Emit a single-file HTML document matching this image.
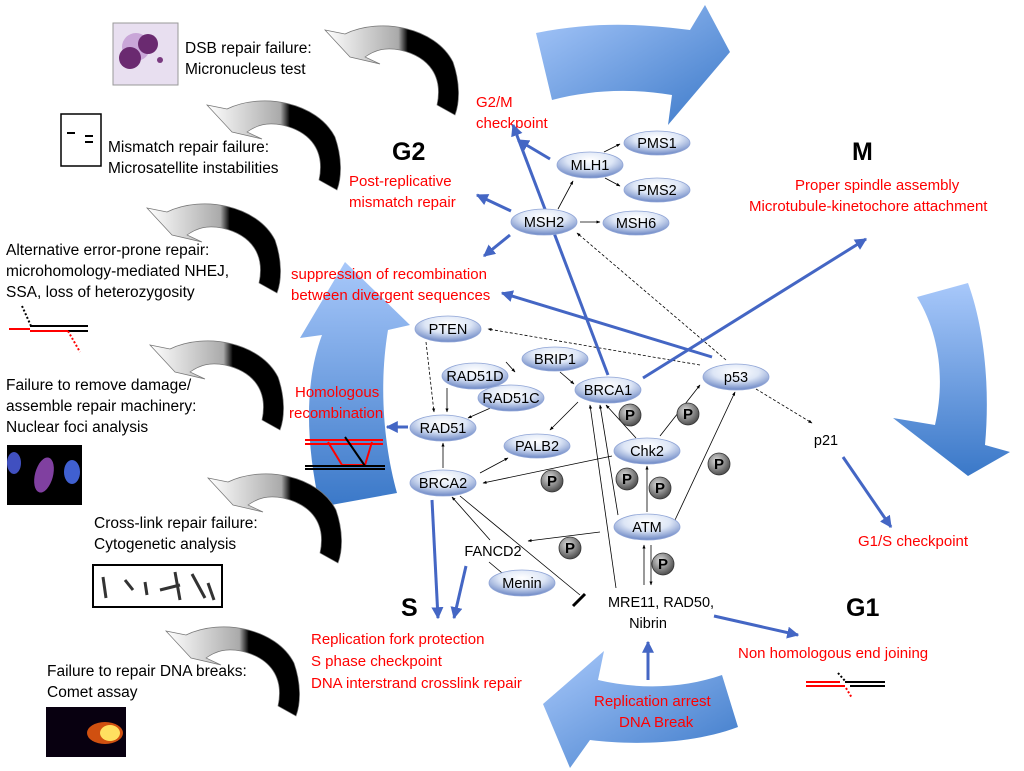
<!DOCTYPE html>
<html><head><meta charset="utf-8"><style>
html,body{margin:0;padding:0;background:#fff;}
svg{display:block;font-family:"Liberation Sans",sans-serif;}
.t{font-size:15.5px;fill:#000;}
.r{font-size:15px;fill:#ff0000;}
.b{font-size:25px;font-weight:bold;fill:#000;}
.n{font-size:14.5px;fill:#000;text-anchor:middle;}
</style></head><body>
<svg width="1024" height="771" viewBox="0 0 1024 771" xmlns="http://www.w3.org/2000/svg">
<defs>
<linearGradient id="bl" x1="0" y1="0" x2="1" y2="1"><stop offset="0" stop-color="#a8c8fa"/><stop offset="1" stop-color="#3a78c8"/></linearGradient>
<linearGradient id="blv" x1="0" y1="0" x2="0" y2="1"><stop offset="0" stop-color="#a8c8fa"/><stop offset="1" stop-color="#3a78c8"/></linearGradient>
<linearGradient id="hk" x1="0" y1="0" x2="1" y2="0"><stop offset="0" stop-color="#fff"/><stop offset="0.55" stop-color="#aaa"/><stop offset="0.62" stop-color="#000"/><stop offset="1" stop-color="#000"/></linearGradient>
<radialGradient id="el" cx="0.5" cy="0.3" r="0.7"><stop offset="0" stop-color="#fff"/><stop offset="0.5" stop-color="#dde6f6"/><stop offset="1" stop-color="#6b86c4"/></radialGradient>
<radialGradient id="pg" cx="0.4" cy="0.35" r="0.7"><stop offset="0" stop-color="#ddd"/><stop offset="1" stop-color="#444"/></radialGradient>
<marker id="ab" viewBox="0 0 10 10" refX="9" refY="5" markerWidth="4" markerHeight="4" orient="auto"><path d="M0,0L10,5L0,10Z" fill="#4466c4"/></marker>
<marker id="ak" viewBox="0 0 10 10" refX="9" refY="5" markerWidth="5" markerHeight="5" orient="auto"><path d="M0,1L10,5L0,9Z" fill="#000"/></marker>
<g id="hook"><path d="M0,8 L20,12 C55,-5 110,5 128,40 C135,60 135,80 130,93 L112,83 C118,55 105,35 75,28 C60,25 50,28 40,35 L55,42 L25,35 Z" fill="url(#hk)" stroke="#777" stroke-width="0.7"/></g>
</defs>

<path d="M536,33 C600,20 650,25 690,30 L705,5 L730,52 L668,125 L672,95 C630,88 590,90 552,100 Z" fill="url(#bl)"/>
<path d="M917,297 L968,283 C985,330 990,390 985,445 L1010,452 L968,476 L893,418 L935,425 C945,380 940,335 917,297 Z" fill="url(#blv)"/>
<path d="M722,675 L738,727 C690,745 630,745 590,740 L570,768 L543,704 L604,651 L598,680 C640,690 685,688 722,675 Z" fill="url(#bl)"/>
<path d="M345,262 L410,325 L388,330 C378,390 385,450 397,493 L320,507 C305,440 305,380 322,335 L300,338 Z" fill="url(#blv)"/>

<use href="#hook" transform="translate(325,22)"/>
<use href="#hook" transform="translate(207,97)"/>
<use href="#hook" transform="translate(147,200)"/>
<use href="#hook" transform="translate(150,337)"/>
<use href="#hook" transform="translate(208,470)"/>
<use href="#hook" transform="translate(166,623)"/>

<rect x="113" y="23" width="65" height="62" fill="#e8dff0" stroke="#999"/>
<circle cx="136" cy="47" r="14" fill="#c9a6d8"/><circle cx="148" cy="44" r="10" fill="#6a2a70"/><circle cx="130" cy="58" r="11" fill="#6a2a70"/><circle cx="160" cy="60" r="3" fill="#7a3a80"/>
<rect x="61" y="114" width="40" height="52" fill="#fff" stroke="#000" stroke-width="1.5"/>
<line x1="67" y1="133" x2="75" y2="133" stroke="#000" stroke-width="2"/><line x1="85" y1="136" x2="93" y2="136" stroke="#000" stroke-width="2"/><line x1="85" y1="142" x2="93" y2="142" stroke="#000" stroke-width="2"/>
<rect x="7" y="445" width="75" height="60" fill="#000"/>
<ellipse cx="14" cy="463" rx="7" ry="11" fill="#4050c0"/><ellipse cx="44" cy="475" rx="9" ry="18" fill="#8040a0" transform="rotate(15 44 475)"/><ellipse cx="72" cy="472" rx="8" ry="12" fill="#4060d0"/>
<rect x="93" y="565" width="129" height="42" fill="#fff" stroke="#000" stroke-width="2"/>
<g stroke="#333" stroke-width="3"><line x1="103" y1="577" x2="106" y2="598"/><line x1="125" y1="580" x2="133" y2="590"/><line x1="145" y1="582" x2="147" y2="595"/><line x1="160" y1="590" x2="180" y2="585"/><line x1="175" y1="572" x2="180" y2="600"/><line x1="192" y1="574" x2="205" y2="598"/><line x1="208" y1="583" x2="214" y2="600"/></g>
<rect x="46" y="707" width="80" height="50" fill="#080010"/>
<ellipse cx="105" cy="733" rx="18" ry="11" fill="#d05010"/><ellipse cx="110" cy="733" rx="10" ry="8" fill="#ffe060"/>

<text class="t" x="185" y="53">DSB repair failure:</text>
<text class="t" x="185" y="74">Micronucleus test</text>
<text class="t" x="108" y="152">Mismatch repair failure:</text>
<text class="t" x="108" y="173">Microsatellite instabilities</text>
<text class="t" x="6" y="255">Alternative error-prone repair:</text>
<text class="t" x="6" y="276">microhomology-mediated NHEJ,</text>
<text class="t" x="6" y="297">SSA,  loss of heterozygosity</text>
<text class="t" x="6" y="390">Failure to remove damage/</text>
<text class="t" x="6" y="411">assemble repair machinery:</text>
<text class="t" x="6" y="432">Nuclear foci analysis</text>
<text class="t" x="94" y="528">Cross-link repair failure:</text>
<text class="t" x="94" y="549">Cytogenetic analysis</text>
<text class="t" x="47" y="676">Failure to repair DNA breaks:</text>
<text class="t" x="47" y="697">Comet assay</text>

<g stroke-width="2"><line x1="9" y1="329" x2="30" y2="329" stroke="red"/><line x1="30" y1="331" x2="68" y2="331" stroke="red"/><line x1="30" y1="326" x2="88" y2="326" stroke="#000"/><line x1="68" y1="331" x2="88" y2="331" stroke="#000"/><line x1="22" y1="306" x2="31" y2="326" stroke="#000" stroke-dasharray="2,2"/><line x1="68" y1="331" x2="80" y2="352" stroke="red" stroke-dasharray="2,2"/></g>
<g stroke-width="2"><line x1="806" y1="682" x2="840" y2="682" stroke="red"/><line x1="806" y1="686" x2="845" y2="686" stroke="red"/><line x1="845" y1="682" x2="885" y2="682" stroke="#000"/><line x1="850" y1="686" x2="885" y2="686" stroke="#000"/><line x1="838" y1="673" x2="846" y2="682" stroke="#000" stroke-dasharray="2,2"/><line x1="846" y1="688" x2="852" y2="698" stroke="red" stroke-dasharray="2,2"/></g>
<g stroke-width="2"><line x1="305" y1="440" x2="383" y2="440" stroke="red"/><line x1="305" y1="444" x2="383" y2="444" stroke="red"/><path d="M328,442 L342,465 L365,465 L372,442" fill="none" stroke="red"/><line x1="305" y1="466" x2="385" y2="466" stroke="#000"/><line x1="305" y1="469" x2="385" y2="469" stroke="#000"/><line x1="345" y1="437" x2="365" y2="466" stroke="#000"/></g>

<text class="r" x="476" y="107">G2/M</text>
<text class="r" x="476" y="128">checkpoint</text>
<text class="r" x="349" y="186">Post-replicative</text>
<text class="r" x="349" y="207">mismatch repair</text>
<text class="r" x="291" y="279">suppression of recombination</text>
<text class="r" x="291" y="300">between divergent sequences</text>
<text class="r" x="295" y="397">Homologous</text>
<text class="r" x="289" y="418">recombination</text>
<text class="r" x="795" y="190">Proper spindle assembly</text>
<text class="r" x="749" y="211">Microtubule-kinetochore attachment</text>
<text class="r" x="858" y="546">G1/S checkpoint</text>
<text class="r" x="311" y="644">Replication fork protection</text>
<text class="r" x="311" y="666">S phase checkpoint</text>
<text class="r" x="311" y="688">DNA interstrand crosslink repair</text>
<text class="r" x="738" y="658">Non homologous end joining</text>
<text class="r" x="594" y="706">Replication arrest</text>
<text class="r" x="619" y="727">DNA Break</text>

<text class="b" x="392" y="160">G2</text>
<text class="b" x="852" y="160">M</text>
<text class="b" x="401" y="616">S</text>
<text class="b" x="846" y="616">G1</text>

<g stroke="#000" stroke-width="0.8" fill="none">
<line x1="604" y1="152" x2="620" y2="144" marker-end="url(#ak)"/>
<line x1="605" y1="178" x2="620" y2="186" marker-end="url(#ak)"/>
<line x1="558" y1="209" x2="573" y2="181" marker-end="url(#ak)"/>
<line x1="580" y1="222" x2="600" y2="222" marker-end="url(#ak)"/>
<line x1="726" y1="360" x2="577" y2="233" stroke-dasharray="3,2" marker-end="url(#ak)"/>
<line x1="700" y1="365" x2="488" y2="329" stroke-dasharray="3,2" marker-end="url(#ak)"/>
<line x1="426" y1="342" x2="434" y2="412" stroke-dasharray="3,2" marker-end="url(#ak)"/>
<line x1="756" y1="389" x2="812" y2="423" stroke-dasharray="3,2" marker-end="url(#ak)"/>
<line x1="447" y1="388" x2="447" y2="412" marker-end="url(#ak)"/>
<line x1="495" y1="406" x2="468" y2="418" marker-end="url(#ak)"/>
<line x1="506" y1="362" x2="515" y2="372" marker-end="url(#ak)"/>
<line x1="560" y1="372" x2="574" y2="384" marker-end="url(#ak)"/>
<line x1="443" y1="468" x2="443" y2="443" marker-end="url(#ak)"/>
<line x1="480" y1="473" x2="508" y2="458" marker-end="url(#ak)"/>
<line x1="578" y1="402" x2="550" y2="430" marker-end="url(#ak)"/>
<line x1="612" y1="456" x2="483" y2="483" marker-end="url(#ak)"/>
<line x1="636" y1="438" x2="606" y2="405" marker-end="url(#ak)"/>
<line x1="660" y1="436" x2="700" y2="385" marker-end="url(#ak)"/>
<line x1="647" y1="512" x2="647" y2="466" marker-end="url(#ak)"/>
<line x1="675" y1="520" x2="735" y2="392" marker-end="url(#ak)"/>
<line x1="618" y1="515" x2="600" y2="405" marker-end="url(#ak)"/>
<line x1="616" y1="588" x2="590" y2="405" marker-end="url(#ak)"/>
<line x1="600" y1="532" x2="528" y2="541" marker-end="url(#ak)"/>
<line x1="490" y1="540" x2="452" y2="497" marker-end="url(#ak)"/>
<line x1="460" y1="496" x2="580" y2="595"/>
<line x1="489" y1="562" x2="508" y2="578" marker-end="url(#ak)"/>
<line x1="644" y1="585" x2="644" y2="545" marker-end="url(#ak)"/>
<line x1="651" y1="545" x2="651" y2="585" marker-end="url(#ak)"/>
</g>
<line x1="573" y1="606" x2="585" y2="594" stroke="#000" stroke-width="3"/>

<g stroke="#4466c4" stroke-width="3" fill="none" marker-end="url(#ab)">
<line x1="550" y1="159" x2="518" y2="140"/>
<line x1="608" y1="375" x2="513" y2="125"/>
<line x1="511" y1="211" x2="477" y2="195"/>
<line x1="510" y1="235" x2="484" y2="256"/>
<line x1="712" y1="357" x2="502" y2="293"/>
<line x1="643" y1="378" x2="866" y2="239"/>
<line x1="408" y1="427" x2="387" y2="427"/>
<line x1="432" y1="500" x2="438" y2="618"/>
<line x1="466" y1="566" x2="454" y2="618"/>
<line x1="843" y1="457" x2="891" y2="527"/>
<line x1="714" y1="616" x2="798" y2="635"/>
<line x1="648" y1="680" x2="648" y2="642"/>
</g>

<g stroke="#8fa4d6" stroke-width="0.8" fill="url(#el)">
<ellipse cx="657" cy="143" rx="33" ry="12"/>
<ellipse cx="590" cy="165" rx="33" ry="13"/>
<ellipse cx="657" cy="190" rx="33" ry="12"/>
<ellipse cx="544" cy="222" rx="33" ry="13"/>
<ellipse cx="636" cy="223" rx="33" ry="12"/>
<ellipse cx="448" cy="329" rx="33" ry="13"/>
<ellipse cx="555" cy="359" rx="33" ry="12"/>
<ellipse cx="475" cy="376" rx="33" ry="13"/>
<ellipse cx="511" cy="398" rx="33" ry="13"/>
<ellipse cx="608" cy="390" rx="33" ry="13"/>
<ellipse cx="736" cy="377" rx="33" ry="13"/>
<ellipse cx="443" cy="428" rx="33" ry="13"/>
<ellipse cx="537" cy="446" rx="33" ry="12"/>
<ellipse cx="647" cy="451" rx="33" ry="13"/>
<ellipse cx="443" cy="483" rx="33" ry="13"/>
<ellipse cx="647" cy="527" rx="33" ry="13"/>
<ellipse cx="522" cy="583" rx="33" ry="13"/>
</g>
<text class="n" x="657" y="148">PMS1</text>
<text class="n" x="590" y="170">MLH1</text>
<text class="n" x="657" y="195">PMS2</text>
<text class="n" x="544" y="227">MSH2</text>
<text class="n" x="636" y="228">MSH6</text>
<text class="n" x="448" y="334">PTEN</text>
<text class="n" x="555" y="364">BRIP1</text>
<text class="n" x="475" y="381">RAD51D</text>
<text class="n" x="511" y="403">RAD51C</text>
<text class="n" x="608" y="395">BRCA1</text>
<text class="n" x="736" y="382">p53</text>
<text class="n" x="443" y="433">RAD51</text>
<text class="n" x="537" y="451">PALB2</text>
<text class="n" x="647" y="456">Chk2</text>
<text class="n" x="443" y="488">BRCA2</text>
<text class="n" x="647" y="532">ATM</text>
<text class="n" x="522" y="588">Menin</text>
<text class="n" x="493" y="556">FANCD2</text>
<text class="n" x="826" y="445">p21</text>
<text class="n" x="661" y="607">MRE11, RAD50,</text>
<text class="n" x="648" y="628">Nibrin</text>

<g fill="url(#pg)" stroke="#333" stroke-width="0.8">
<circle cx="630" cy="415" r="11"/><circle cx="688" cy="414" r="11"/><circle cx="552" cy="481" r="11"/><circle cx="627" cy="479" r="11"/><circle cx="660" cy="488" r="11"/><circle cx="719" cy="464" r="11"/><circle cx="570" cy="548" r="11"/><circle cx="663" cy="564" r="11"/>
</g>
<g font-size="15" font-weight="bold" text-anchor="middle" fill="#000">
<text x="630" y="420">P</text><text x="688" y="419">P</text><text x="552" y="486">P</text><text x="627" y="484">P</text><text x="660" y="493">P</text><text x="719" y="469">P</text><text x="570" y="553">P</text><text x="663" y="569">P</text>
</g>
</svg>
</body></html>
